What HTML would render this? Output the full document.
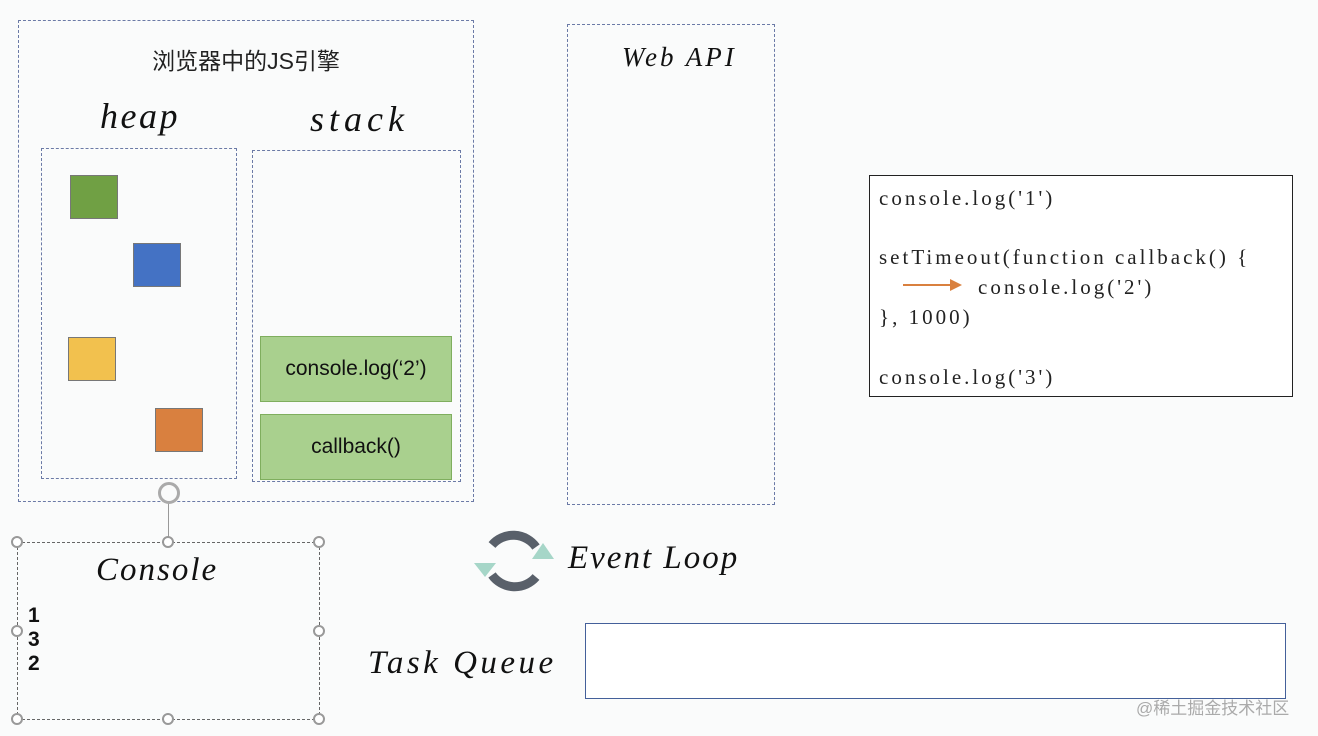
<!DOCTYPE html>
<html><head><meta charset="utf-8"><style>
body{margin:0;width:1318px;height:736px;background:#fafbfb;position:relative;overflow:hidden;font-family:"Liberation Sans","Noto Sans CJK SC",sans-serif}
.a{position:absolute;box-sizing:border-box}
.dash{border:1px dashed #6b7aa6}
.hand{font-family:"Liberation Serif",serif;font-style:italic;color:#111}
.sq{position:absolute;width:46px;height:42px;border:1px solid #777}
.g{position:absolute;background:#a9d08e;border:1px solid #7fae5e;display:flex;align-items:center;justify-content:center;font-size:21px;color:#111}
.h{position:absolute;width:12px;height:12px;border:2px solid #999;border-radius:50%;background:#fff;box-sizing:border-box}
.code{font-family:"Liberation Serif",serif;font-size:21px;color:#222;line-height:30px;letter-spacing:3px;white-space:nowrap}
</style></head><body>
<div class="a dash" style="left:18px;top:20px;width:456px;height:482px"></div>
<div class="a" style="left:18px;top:42px;width:456px;text-align:center;font-size:23px;color:#222">浏览器中的JS引擎</div>
<div class="a hand" style="left:100px;top:95px;font-size:36px;letter-spacing:2.5px">heap</div>
<div class="a hand" style="left:310px;top:98px;font-size:36px;letter-spacing:5px">stack</div>
<div class="a dash" style="left:41px;top:148px;width:196px;height:331px"></div>
<div class="a dash" style="left:252px;top:150px;width:209px;height:332px"></div>
<div class="sq" style="left:70px;top:175px;background:#70a044"></div>
<div class="sq" style="left:133px;top:243px;background:#4472c4"></div>
<div class="sq" style="left:68px;top:337px;background:#f2c14e"></div>
<div class="sq" style="left:155px;top:408px;background:#d9803f"></div>
<div class="g" style="left:260px;top:336px;width:190px;height:64px">console.log(‘2’)</div>
<div class="g" style="left:260px;top:414px;width:190px;height:64px">callback()</div>
<div class="a dash" style="left:567px;top:24px;width:208px;height:481px"></div>
<div class="a hand" style="left:622px;top:42px;font-size:27px;letter-spacing:3px">Web API</div>
<div class="a" style="left:869px;top:175px;width:424px;height:222px;border:1.5px solid #222;background:#fff"></div>
<div class="a code" style="left:879px;top:183px">console.log('1')</div>
<div class="a code" style="left:879px;top:242px">setTimeout(function callback() {</div>
<div class="a code" style="left:978px;top:272px">console.log('2')</div>
<div class="a" style="left:903px;top:284px;width:50px;height:2px;background:#d9803f"></div>
<div class="a" style="left:950px;top:279px;width:0;height:0;border-left:12px solid #d9803f;border-top:6px solid transparent;border-bottom:6px solid transparent"></div>
<div class="a code" style="left:879px;top:302px">}, 1000)</div>
<div class="a code" style="left:879px;top:362px">console.log('3')</div>
<div class="a" style="left:168px;top:502px;width:1px;height:40px;background:#999"></div>
<div class="a" style="left:158px;top:482px;width:22px;height:22px;border:3px solid #aaa;border-radius:50%;background:#fafbfb"></div>
<div class="a" style="left:17px;top:542px;width:303px;height:178px;border:1px dashed #666"></div>
<div class="h" style="left:11px;top:536px"></div><div class="h" style="left:162px;top:536px"></div><div class="h" style="left:313px;top:536px"></div>
<div class="h" style="left:11px;top:625px"></div><div class="h" style="left:313px;top:625px"></div>
<div class="h" style="left:11px;top:713px"></div><div class="h" style="left:162px;top:713px"></div><div class="h" style="left:313px;top:713px"></div>
<div class="a hand" style="left:96px;top:552px;font-size:33px;letter-spacing:2px">Console</div>
<div class="a" style="left:28px;top:604px;font-size:21px;font-weight:bold;line-height:24px;color:#111">1<br>3<br>2</div>
<svg class="a" style="left:470px;top:525px" width="90" height="75" viewBox="0 0 90 75">
<path d="M22 20 A28 28 0 0 1 66 22" stroke="#59606a" stroke-width="9" fill="none"/>
<path d="M66 52 A28 28 0 0 1 22 50" stroke="#59606a" stroke-width="9" fill="none"/>
<polygon points="62,34 84,34 73,18" fill="#a6d6c8"/>
<polygon points="4,38 26,38 15,52" fill="#a6d6c8"/>
</svg>
<div class="a hand" style="left:568px;top:540px;font-size:33px;letter-spacing:2px">Event Loop</div>
<div class="a hand" style="left:368px;top:645px;font-size:33px;letter-spacing:3.5px">Task Queue</div>
<div class="a" style="left:585px;top:623px;width:701px;height:76px;border:1.5px solid #44609a;background:#fff"></div>
<div class="a" style="left:1136px;top:694px;font-size:17px;color:#aaa">@稀土掘金技术社区</div>
</body></html>
